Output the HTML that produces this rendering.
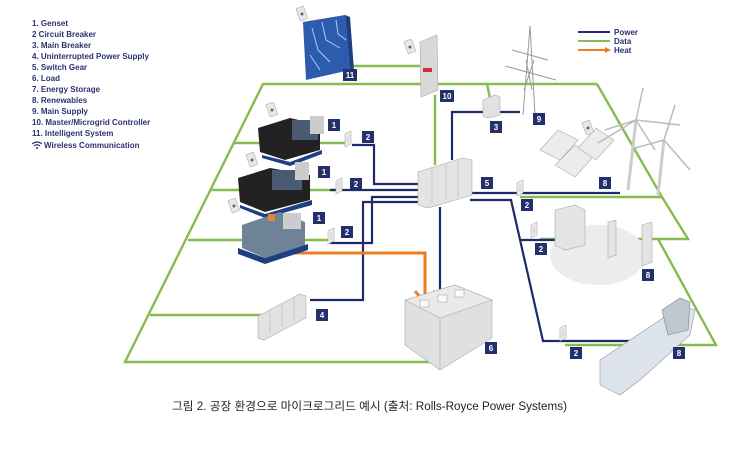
<!DOCTYPE html>
<html><head><meta charset="utf-8"><style>
html,body{margin:0;padding:0;background:#fff;}
svg{display:block;}
.t{font-family:"Liberation Sans",sans-serif;font-size:8px;font-weight:bold;fill:#2b3170;}
.n{font-family:"Liberation Sans",sans-serif;font-size:8px;font-weight:bold;fill:#fff;text-anchor:middle;}
</style></head><body>
<svg width="750" height="454" viewBox="0 0 750 454" xmlns="http://www.w3.org/2000/svg">
<defs>
<g id="wl"><rect x="-4" y="-7" width="8" height="13" rx="1" fill="#e8e8e8" stroke="#aaa" stroke-width="0.6" transform="rotate(-20)"/><circle cx="0" cy="0" r="1.5" fill="#666"/></g>
<g id="br"><path d="M0,3 L6,0 L6,13 L0,16 Z" fill="#eee" stroke="#aaa" stroke-width="0.6"/><path d="M1.5,5 L4.5,3.5 L4.5,11 L1.5,12.5Z" fill="#ddd"/></g>
</defs>
<!-- legend -->
<g class="t">
<text x="32" y="26">1.  Genset</text>
<text x="32" y="37">2   Circuit Breaker</text>
<text x="32" y="48">3.  Main Breaker</text>
<text x="32" y="59">4.  Uninterrupted Power Supply</text>
<text x="32" y="70">5.  Switch Gear</text>
<text x="32" y="81">6.  Load</text>
<text x="32" y="92">7.  Energy Storage</text>
<text x="32" y="103">8.  Renewables</text>
<text x="32" y="114">9.  Main Supply</text>
<text x="32" y="125">10. Master/Microgrid Controller</text>
<text x="32" y="136">11. Intelligent System</text>
<text x="44" y="148">Wireless Communication</text>
</g>
<path d="M32,144 q5,-4 10,0 M34,146 q3,-2.5 6,0" stroke="#2b3170" stroke-width="1.1" fill="none"/>
<circle cx="37" cy="148" r="1" fill="#2b3170"/>
<line x1="578" y1="32" x2="610" y2="32" stroke="#1f2a6b" stroke-width="2"/>
<line x1="578" y1="41" x2="610" y2="41" stroke="#86bc4f" stroke-width="2"/>
<line x1="578" y1="50" x2="607" y2="50" stroke="#ee7d22" stroke-width="2"/>
<path d="M605,47 L611,50 L605,53Z" fill="#ee7d22"/>
<g class="t"><text x="614" y="35">Power</text><text x="614" y="44">Data</text><text x="614" y="53">Heat</text></g>

<!-- green data lines -->
<g stroke="#86bc4f" stroke-width="2.4" fill="none">
<path d="M348,66 L420,66"/>
<path d="M597,84 L263,84 L125,362 L440,362"/>
<path d="M233,143 L262,143 M320,143 L346,143"/>
<path d="M210,190 L240,190 M310,190 L336,190"/>
<path d="M188,240 L250,240 M300,240 L330,240"/>
<path d="M150,315 L265,315"/>
<path d="M435,95 L435,165"/>
<path d="M487,84 L490,98"/>
<path d="M597,84 L662,197 L520,197"/>
<path d="M662,197 L688,239 L540,239"/>
<path d="M658,239 L716,345 L565,345"/>
</g>

<!-- power lines -->
<g stroke="#1f2a6b" stroke-width="2.2" fill="none">
<path d="M352,145 L374,145 L374,184 L418,184"/>
<path d="M330,190 L418,190"/>
<path d="M330,243 L372,243 L372,197 L418,197"/>
<path d="M310,300 L363,300 L363,202 L418,202"/>
<path d="M440,207 L440,292"/>
<path d="M452,160 L452,112 L490,112 M500,112 L520,112"/>
<path d="M470,193 L620,193"/>
<path d="M470,200 L511,200 L543,341 L640,341"/>
<path d="M521,240 L555,240"/>
</g>
<!-- heat -->
<path d="M273,253 L425,253 L425,296" stroke="#ee7d22" stroke-width="3" fill="none"/>
<path d="M415,291 L425,303 L435,291" stroke="#ee7d22" stroke-width="3" fill="none"/>

<!-- intelligent system chip -->
<path d="M303,22 L345,15 L350,70 L306,80Z" fill="#2d5cae"/>
<path d="M345,15 L350,17 L354,70 L350,70Z" fill="#1e3f80"/>
<g stroke="#9fd0ff" stroke-width="1" fill="none"><path d="M312,28 L318,50 L330,62 M322,22 L326,40 L340,48 M336,20 L338,34 L346,40 M310,55 L320,70"/></g>
<use href="#wl" x="302" y="14"/>

<!-- controller 10 -->
<path d="M420,42 L437,35 L438,90 L421,97Z" fill="#d8d8d8" stroke="#aaa" stroke-width="0.6"/>
<rect x="423" y="68" width="9" height="4" fill="#c33"/>
<use href="#wl" x="410" y="47"/>

<!-- tower -->
<g stroke="#999" stroke-width="1" fill="none">
<path d="M530,26 L523,115 M530,26 L535,115 M512,50 L548,60 M505,66 L556,80 M526,60 L532,90 M524,90 L534,60"/>
</g>

<!-- main breaker 3 -->
<path d="M483,100 L495,95 L500,97 L500,115 L488,118 L483,116Z" fill="#e2e2e2" stroke="#aaa" stroke-width="0.6"/>

<!-- gensets -->
<g>
<path d="M258,128 L290,118 L320,125 L320,150 L285,160 L260,152Z" fill="#222"/>
<rect x="292" y="120" width="26" height="20" fill="#4a5a70"/>
<rect x="310" y="116" width="14" height="18" fill="#ccc"/>
<path d="M262,155 L290,162 L322,150 L322,154 L290,166 L262,158Z" fill="#1e3f80"/>
<use href="#wl" x="272" y="110"/>
<path d="M238,178 L270,168 L310,175 L310,200 L265,212 L240,202Z" fill="#222"/>
<rect x="272" y="170" width="30" height="20" fill="#4a5a70"/>
<rect x="295" y="162" width="14" height="18" fill="#ccc"/>
<path d="M240,205 L265,214 L312,200 L312,205 L265,218 L240,208Z" fill="#1e3f80"/>
<use href="#wl" x="252" y="160"/>
<path d="M242,225 L280,212 L305,222 L305,245 L265,258 L242,248Z" fill="#6f8398"/>
<rect x="283" y="213" width="18" height="16" fill="#ccc"/>
<rect x="268" y="214" width="7" height="7" fill="#d98a3a"/>
<path d="M238,248 L265,258 L308,244 L308,250 L265,264 L238,254Z" fill="#1e3f80"/>
<use href="#wl" x="234" y="206"/>
</g>
<use href="#br" x="345" y="131"/>
<use href="#br" x="336" y="178"/>
<use href="#br" x="328" y="228"/>

<!-- UPS 4 -->
<path d="M258,316 L300,294 L306,296 L306,318 L264,340 L258,338Z" fill="#e2e2e2" stroke="#aaa" stroke-width="0.6"/>
<g stroke="#bbb" stroke-width="0.7"><path d="M270,310 L270,333 M282,304 L282,327 M294,298 L294,321"/></g>

<!-- switchgear 5 -->
<path d="M418,172 L462,158 L472,160 L472,195 L428,208 L418,205Z" fill="#e4e4e4" stroke="#aaa" stroke-width="0.6"/>
<g stroke="#bbb" stroke-width="0.7"><path d="M432,168 L432,204 M446,164 L446,200 M458,160 L458,197"/></g>

<!-- load 6 building -->
<path d="M405,300 L455,285 L492,300 L492,338 L440,370 L405,345Z" fill="#e0e0e0" stroke="#aaa" stroke-width="0.6"/>
<path d="M405,300 L455,285 L492,300 L440,318Z" fill="#eaeaea" stroke="#aaa" stroke-width="0.6"/>
<path d="M440,318 L440,370" stroke="#aaa" stroke-width="0.6"/>
<rect x="420" y="300" width="9" height="7" fill="#fafafa" stroke="#999" stroke-width="0.5"/>
<rect x="438" y="295" width="9" height="7" fill="#fafafa" stroke="#999" stroke-width="0.5"/>
<rect x="455" y="290" width="9" height="7" fill="#fafafa" stroke="#999" stroke-width="0.5"/>

<!-- solar panels -->
<g fill="#ececec" stroke="#aaa" stroke-width="0.6">
<path d="M540,150 L558,130 L578,140 L560,160Z"/>
<path d="M555,165 L575,145 L594,156 L575,177Z"/>
<path d="M578,148 L596,128 L614,140 L596,160Z"/>
</g>
<use href="#wl" x="588" y="128"/>

<!-- wind turbines -->
<g stroke="#ccc" stroke-width="3" fill="none">
<path d="M628,190 L636,120"/><path d="M658,195 L664,140"/>
</g>
<g stroke="#bbb" stroke-width="1.5" fill="none">
<path d="M636,120 L643,88 M636,120 L605,130 M636,120 L655,150 M636,120 L598,143 M636,120 L680,125"/>
<path d="M664,140 L675,105 M664,140 L690,170 M664,140 L635,148"/>
</g>
<use href="#br" x="517" y="180"/>

<!-- storage 7 area -->
<ellipse cx="598" cy="255" rx="48" ry="30" fill="#ececec"/>
<path d="M555,210 L575,205 L585,210 L585,245 L565,250 L555,245Z" fill="#e4e4e4" stroke="#aaa" stroke-width="0.6"/>
<path d="M608,222 L616,220 L616,255 L608,258Z" fill="#e4e4e4" stroke="#aaa" stroke-width="0.6"/>
<path d="M642,225 L652,222 L652,262 L642,266Z" fill="#e4e4e4" stroke="#aaa" stroke-width="0.6"/>
<use href="#br" x="531" y="222"/>

<!-- bottom right generator 8 -->
<path d="M600,360 L660,320 L680,305 L695,310 L690,335 L640,380 L620,395 L600,385Z" fill="#dde3ea" stroke="#999" stroke-width="0.6"/>
<path d="M662,310 L680,298 L690,302 L688,330 L668,335Z" fill="#bfc7d0" stroke="#888" stroke-width="0.6"/>
<use href="#br" x="560" y="325"/>

<!-- number labels -->
<g fill="#23306b">
<rect x="343" y="69" width="14" height="12"/>
<rect x="440" y="90" width="14" height="12"/>
<rect x="490" y="121" width="12" height="12"/>
<rect x="533" y="113" width="12" height="12"/>
<rect x="328" y="119" width="12" height="12"/>
<rect x="362" y="131" width="12" height="12"/>
<rect x="318" y="166" width="12" height="12"/>
<rect x="350" y="178" width="12" height="12"/>
<rect x="313" y="212" width="12" height="12"/>
<rect x="341" y="226" width="12" height="12"/>
<rect x="316" y="309" width="12" height="12"/>
<rect x="481" y="177" width="12" height="12"/>
<rect x="599" y="177" width="12" height="12"/>
<rect x="521" y="199" width="12" height="12"/>
<rect x="535" y="243" width="12" height="12"/>
<rect x="642" y="269" width="12" height="12"/>
<rect x="570" y="347" width="12" height="12"/>
<rect x="673" y="347" width="12" height="12"/>
<rect x="485" y="342" width="12" height="12"/>
</g>
<g class="n">
<text x="350" y="78">11</text><text x="447" y="99">10</text><text x="496" y="130">3</text><text x="539" y="122">9</text>
<text x="334" y="128">1</text><text x="368" y="140">2</text><text x="324" y="175">1</text><text x="356" y="187">2</text>
<text x="319" y="221">1</text><text x="347" y="235">2</text><text x="322" y="318">4</text><text x="487" y="186">5</text>
<text x="605" y="186">8</text><text x="527" y="208">2</text><text x="541" y="252">2</text><text x="648" y="278">8</text>
<text x="576" y="356">2</text><text x="679" y="356">8</text><text x="491" y="351">6</text>
</g>

<text x="172" y="410" style="font-family:'Liberation Sans','Noto Sans CJK KR',sans-serif;font-size:11.5px;fill:#222" textLength="395" lengthAdjust="spacingAndGlyphs">그림 2. 공장 환경으로 마이크로그리드 예시 (출처: Rolls-Royce Power Systems)</text>
</svg>
</body></html>
